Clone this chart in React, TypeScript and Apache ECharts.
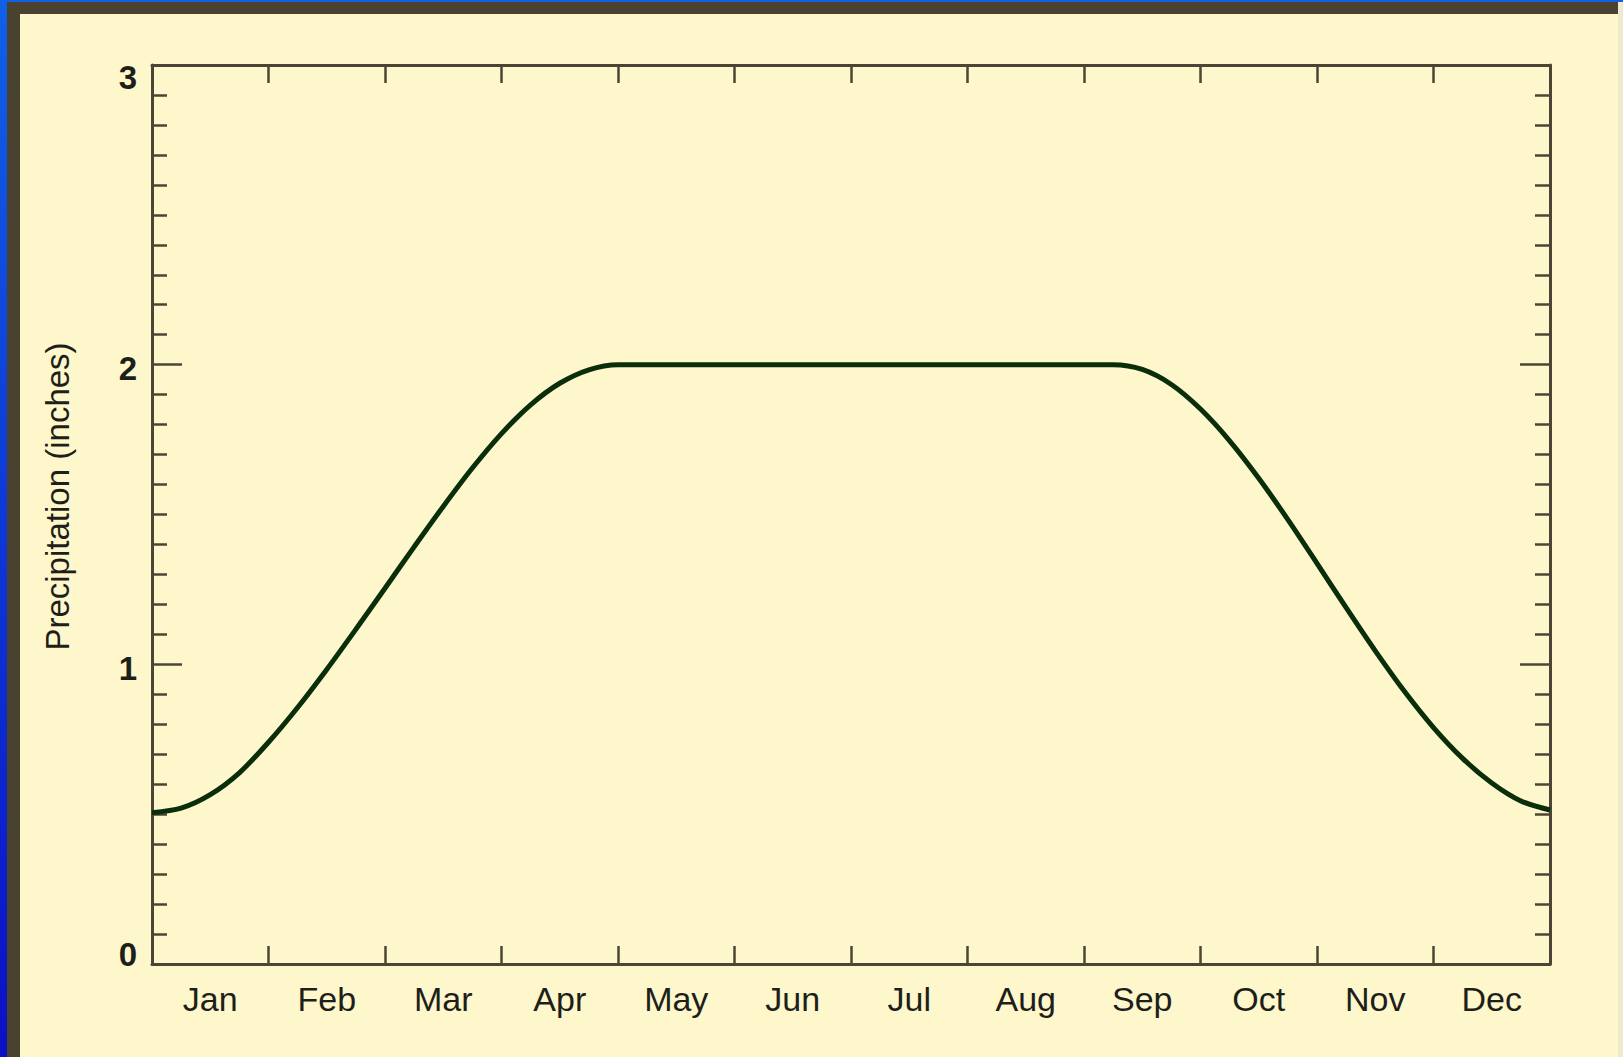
import React, { useEffect, useRef } from "react";
import * as echarts from "echarts";

const months = ["Jan", "Feb", "Mar", "Apr", "May", "Jun", "Jul", "Aug", "Sep", "Oct", "Nov", "Dec"];
const yTicks = [0, 1, 2, 3];
// position along the year in months (0 = start of Jan, 12 = end of Dec)
const monthPos = [
  0, 0.25, 0.5, 0.75, 1.0, 1.25, 1.5, 1.75, 2.0, 2.25, 2.5, 2.75, 3.0, 3.25, 3.5, 3.75, 4.0,
  6.0,
  8.25, 8.5, 8.75, 9.0, 9.25, 9.5, 9.75, 10.0, 10.25, 10.5, 10.75, 11.0, 11.25, 11.5, 11.75, 12.0,
];
const precip = [
  0.505, 0.52, 0.565, 0.638, 0.74, 0.856, 0.983, 1.117, 1.254, 1.392, 1.527, 1.655, 1.77, 1.866, 1.938, 1.983, 2.0,
  2.0,
  2.0, 1.984, 1.934, 1.852, 1.746, 1.621, 1.483, 1.337, 1.189, 1.045, 0.91, 0.789, 0.686, 0.604, 0.544, 0.514,
];

const AXIS = "#4c4535";
const TEXT = "#1e1e1a";
const FONT = "'Liberation Sans', Arial, sans-serif";

export default function App() {
  const ref = useRef<HTMLDivElement>(null);
  useEffect(() => {
    if (!ref.current) return;
    const chart = echarts.init(ref.current, null, { renderer: "svg" });
    const data = monthPos.map((m, i) => [m, precip[i]]);
    const base = { fontSize: 33, fontWeight: "bold" as const, fontFamily: FONT, color: TEXT };
    const yLabelRich = {
      n: { ...base, padding: [8, 0, 0, 0] },
      t: { ...base, padding: [24, 0, 0, 0] },
      b: { ...base, padding: [0, 0, 20, 0] },
    };
    chart.setOption({
      animation: false,
      backgroundColor: "#fdf7cb",
      graphic: [
        {
          type: "rect",
          z: -10,
          shape: { x: 0, y: 0, width: 7, height: 1057 },
          style: {
            fill: new echarts.graphic.LinearGradient(0, 0, 0, 1, [
              { offset: 0, color: "#1060e8" },
              { offset: 1, color: "#0a10c4" },
            ]),
          },
        },
        { type: "rect", z: -10, shape: { x: 0, y: 0, width: 1623, height: 2 }, style: { fill: "#1060e8" } },
        { type: "rect", z: -9, shape: { x: 7, y: 2, width: 13, height: 1055 }, style: { fill: "#4a4231" } },
        { type: "rect", z: -9, shape: { x: 7, y: 2, width: 1611, height: 12 }, style: { fill: "#4a4231" } },
        { type: "rect", z: -9, shape: { x: 1618, y: 2, width: 5, height: 1055 }, style: { fill: "#eeead0" } },
      ],
      grid: { left: 152, top: 65, width: 1398, height: 899, containLabel: false },
      xAxis: [
        { type: "value", min: 0, max: 12, show: false },
        {
          type: "category",
          data: months,
          position: "bottom",
          boundaryGap: true,
          axisLine: { show: true, lineStyle: { color: AXIS, width: 3 } },
          axisTick: { show: true, inside: true, length: 18, lineStyle: { color: AXIS, width: 2.5 } },
          axisLabel: { show: true, margin: 18, fontSize: 34, fontFamily: FONT, color: TEXT },
          splitLine: { show: false },
        },
        {
          type: "category",
          data: months,
          position: "top",
          boundaryGap: true,
          axisLine: { show: true, lineStyle: { color: AXIS, width: 3 } },
          axisTick: { show: true, inside: true, length: 18, lineStyle: { color: AXIS, width: 2.5 } },
          axisLabel: { show: false },
          splitLine: { show: false },
        },
      ],
      yAxis: [
        {
          type: "value",
          min: 0,
          max: 3,
          interval: 1,
          position: "left",
          name: "Precipitation (inches)",
          nameLocation: "middle",
          nameGap: 78,
          nameTextStyle: { fontSize: 33, fontFamily: FONT, color: TEXT, padding: [0, 0, 0, 36] },
          axisLine: { show: true, lineStyle: { color: AXIS, width: 3 } },
          axisTick: { show: true, inside: true, length: 30, lineStyle: { color: AXIS, width: 2.5 } },
          minorTick: { show: true, splitNumber: 10, length: 15, lineStyle: { color: AXIS, width: 2.5 } },
          axisLabel: {
            show: true,
            margin: 15,
            formatter: (v: number) =>
              v === yTicks[yTicks.length - 1] ? `{t|${v}}` : v === yTicks[0] ? `{b|${v}}` : `{n|${v}}`,
            rich: yLabelRich,
          },
          splitLine: { show: false },
          minorSplitLine: { show: false },
        },
        {
          type: "value",
          min: 0,
          max: 3,
          interval: 1,
          position: "right",
          axisLine: { show: true, lineStyle: { color: AXIS, width: 3 } },
          axisTick: { show: true, inside: true, length: 30, lineStyle: { color: AXIS, width: 2.5 } },
          minorTick: { show: true, splitNumber: 10, length: 15, lineStyle: { color: AXIS, width: 2.5 } },
          axisLabel: { show: false },
          splitLine: { show: false },
          minorSplitLine: { show: false },
        },
      ],
      series: [
        {
          type: "line",
          xAxisIndex: 0,
          yAxisIndex: 0,
          data,
          smooth: 0.3,
          showSymbol: false,
          symbol: "none",
          lineStyle: { color: "#0a2e0a", width: 5 },
        },
      ],
    });
    return () => chart.dispose();
  }, []);
  return <div ref={ref} style={{ position: "fixed", left: 0, top: 0, width: 1623, height: 1057 }} />;
}
